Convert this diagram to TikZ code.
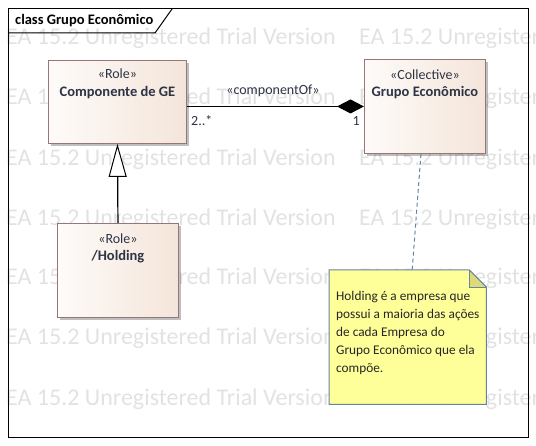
\documentclass[tikz,border=0pt]{standalone}
\usepackage{fontspec}
\setmainfont{Carlito}
\usetikzlibrary{shadows,arrows.meta}
\definecolor{boxL}{RGB}{254,251,249}
\definecolor{boxR}{RGB}{244,229,218}
\definecolor{boxB}{RGB}{150,118,118}
\definecolor{txt}{RGB}{45,52,68}
\definecolor{noteF}{RGB}{255,255,153}
\definecolor{noteB}{RGB}{100,132,162}
\definecolor{foldF}{RGB}{222,218,122}
\definecolor{wm}{RGB}{226,226,226}
\tikzset{
  umlbox/.style={draw=boxB, line width=0.9pt, left color=boxL, right color=boxR,
    inner sep=0pt, anchor=north west,
    drop shadow={shadow xshift=3pt, shadow yshift=-3pt, opacity=0.25, fill=black}},
  stereo/.style={text=txt, font=\fontsize{14}{16}\selectfont, inner sep=0pt},
  cname/.style={text=txt, font=\bfseries\fontsize{14.5}{16}\selectfont, inner sep=0pt},
  lbl/.style={text=txt, font=\fontsize{14}{16}\selectfont, inner sep=0pt},
  wmark/.style={text=wm, font=\fontsize{24}{26}\selectfont, inner sep=0pt, anchor=west},
  conn/.style={line width=1.2pt, black},
}
\begin{document}
\begin{tikzpicture}[x=1pt,y=-1pt]
\useasboundingbox (0,0) rectangle (536,446);
% watermark
\begin{scope}
\clip (0,0) rectangle (536,446);
\foreach \yy [count=\i] in {38,98,159,219,278,338,399}{
  \node[wmark] (wmA\i) at (6,\yy) {EA 15.2 Unregistered Trial Version};
  \node[wmark] (wmB\i) at (359,\yy) {EA 15.2 Unregistered};
}
\end{scope}
% frame
\draw[line width=1pt] (8,9) rectangle (528,438);
\draw[line width=1pt] (8,33) -- (155,33) -- (172,9);
\node[cname, text=black, anchor=west] (title) at (15,21) {class Grupo Econômico};
% boxes
\node[umlbox, minimum width=138pt, minimum height=83pt] (comp) at (48,60) {};
\node[umlbox, minimum width=121pt, minimum height=94pt] (grupo) at (364,59) {};
\node[umlbox, minimum width=121pt, minimum height=94pt] (hold) at (57,223) {};
\node[stereo] (compS) at ([yshift=-14]comp.north) {«Role»};
\node[cname] (compN) at ([yshift=-33]comp.north) {Componente de GE};
\node[stereo] (grupoS) at ([yshift=-16]grupo.north) {«Collective»};
\node[cname] (grupoN) at ([yshift=-34]grupo.north) {Grupo Econômico};
\node[stereo] (holdS) at ([yshift=-16]hold.north) {«Role»};
\node[cname] (holdN) at ([yshift=-34]hold.north) {/Holding};
% association
\coordinate (aL) at (comp.east |- grupo.west);
\draw[conn, -{Diamond[length=27pt,width=14pt,fill=black]}] (aL) -- (grupo.west);
\node[lbl, anchor=south] (assocL) at (273,97) {«componentOf»};
\node[lbl, anchor=west] (multA) at (191,121) {2..*};
\node[lbl, anchor=east] (multB) at (360,121) {1};
% generalization
\draw[conn, -{Triangle[open,length=33pt,width=18pt,fill=white,line width=1pt]}] (hold.north) -- (comp.south);
% note
\node[inner sep=0pt, minimum width=157pt, minimum height=134pt, anchor=north west] (note) at (329,270) {};
\fill[noteF] (note.north west) -- ([xshift=-17]note.north east) -- ([yshift=-17]note.north east) -- (note.south east) -- (note.south west) -- cycle;
\fill[foldF] ([xshift=-17]note.north east) -- ([xshift=-17,yshift=-17]note.north east) -- ([yshift=-17]note.north east) -- cycle;
\draw[noteB, line width=1pt] (note.north west) -- ([xshift=-17]note.north east) -- ([yshift=-17]note.north east) -- (note.south east) -- (note.south west) -- cycle;
\draw[noteB, line width=0.8pt] ([xshift=-17]note.north east) -- ([xshift=-17,yshift=-17]note.north east) -- ([yshift=-17]note.north east);
\node[lbl, text=black!85, anchor=north west, align=left, font=\fontsize{13.3}{18}\selectfont] (noteT) at ([xshift=7,yshift=-21]note.north west)
  {Holding é a empresa que\\possui a maioria das ações\\de cada Empresa do\\Grupo Econômico que ela\\compõe.};
\draw[noteB, line width=1pt, dash pattern=on 4pt off 3pt] ([xshift=-4]grupo.south) -- ([xshift=4.5]note.north);
\end{tikzpicture}
\end{document}
